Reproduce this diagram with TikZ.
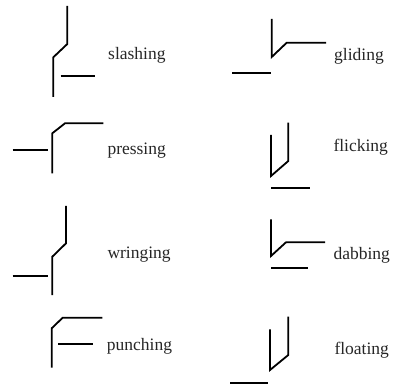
\documentclass[tikz,border=0pt]{standalone}
\usepackage{fontspec}
\setmainfont{Liberation Serif}
\begin{document}
\begin{tikzpicture}[x=1pt,y=-1pt,
  effort/.style={line width=1.8pt,line cap=butt,line join=miter},
  lbl/.style={anchor=base west,inner sep=0pt,font=\fontsize{17.5}{20}\selectfont,text=black!85}]
\useasboundingbox (0,0) rectangle (394,385);
% slashing
\draw[effort] (67.3,6) -- (67.3,44) -- (53.3,57.3) -- (53.3,97);
\draw[effort] (60.7,76) -- (95,76);
\node[lbl] (slashing) at (108,60) {slashing};
% gliding
\draw[effort] (271.7,19) -- (271.7,57) -- (286.7,42.7) -- (326,42.7);
\draw[effort] (232.3,72.7) -- (271,72.7);
\node[lbl] (gliding) at (334,61) {gliding};
% pressing
\draw[effort] (12.7,150) -- (47.7,150);
\draw[effort] (52.3,173.3) -- (52.3,133.3) -- (65,123.3) -- (103.3,123.3);
\node[lbl] (pressing) at (107.3,155) {pressing};
% flicking
\draw[effort] (271,135) -- (271,176) -- (288.3,161) -- (288.3,122.7);
\draw[effort] (271,188.3) -- (310,188.3);
\node[lbl] (flicking) at (333.3,151.7) {flicking};
% wringing
\draw[effort] (66,206) -- (66,243.3) -- (52.3,256.7) -- (52.3,295);
\draw[effort] (12.7,276) -- (47.7,276);
\node[lbl] (wringing) at (107.3,258.3) {wringing};
% dabbing
\draw[effort] (271,219.3) -- (271,256) -- (286,242.3) -- (325,242.3);
\draw[effort] (271,268.3) -- (308.3,268.3);
\node[lbl] (dabbing) at (333.3,259) {dabbing};
% punching
\draw[effort] (51.7,367.7) -- (51.7,328.3) -- (62.7,317.7) -- (102.3,317.7);
\draw[effort] (58.3,344) -- (93.3,344);
\node[lbl] (punching) at (106.7,350) {punching};
% floating
\draw[effort] (270,329.3) -- (270,370) -- (288.3,355) -- (288.3,316.7);
\draw[effort] (230,382.7) -- (268.3,382.7);
\node[lbl] (floating) at (334.3,354) {floating};
\end{tikzpicture}
\end{document}
